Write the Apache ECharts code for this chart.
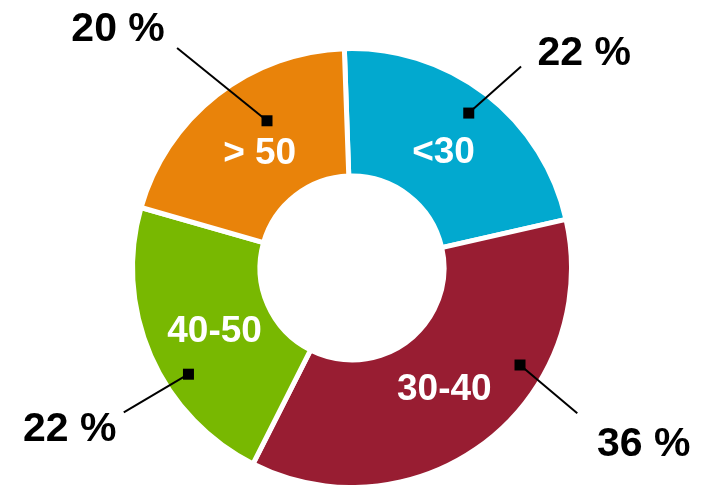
<!DOCTYPE html>
<html>
<head>
<meta charset="utf-8">
<script src="https://cdn.jsdelivr.net/npm/echarts@6/dist/echarts.min.js"></script>
<style>
html,body{margin:0;padding:0;background:#fff;}
#chart{width:704px;height:485px;}
</style>
</head>
<body>
<div id="chart"></div>
<script>
// ---- data ----
const categories = ['<30', '30-40', '40-50', '> 50'];
const shares = [22, 36, 22, 20];
const sliceColors = ['#02A9CF', '#981D32', '#78B801', '#E9830A'];

// ---- annotation layout (polar around pie centre: [radius px, angle deg, CCW from 3 o'clock]) ----
const markerPos  = [[194, 53], [194, 330], [195, 213], [170, 120]];
const lineEndPos = [[263, 50], [268, 327.2], [270, 212.3], [281, 128.5]];
const labelPos   = [[316, 42.6], [342, 328.7], [325, 209.9], [333, 134.5]];

const CENTER = [352, 268];
const FONT = '"Liberation Sans", Arial, Helvetica, sans-serif';

const pieData = categories.map((c, i) => ({
  name: c, value: shares[i], itemStyle: { color: sliceColors[i] }
}));

const leaderSeries = categories.map((c, i) => ({
  type: 'line',
  coordinateSystem: 'polar',
  data: [markerPos[i], lineEndPos[i]],
  symbol: 'none',
  silent: true,
  lineStyle: { color: '#000', width: 2 },
  z: 5
}));

const option = {
  animation: false,
  backgroundColor: '#fff',
  polar: { center: CENTER, radius: 400 },
  angleAxis: { type: 'value', min: 0, max: 360, startAngle: 0, clockwise: false, show: false },
  radiusAxis: { type: 'value', min: 0, max: 400, show: false },
  series: [
    {
      type: 'pie',
      center: CENTER,
      radius: [92, 219.5],
      startAngle: 92,
      clockwise: true,
      silent: true,
      label: { show: false },
      labelLine: { show: false },
      itemStyle: { borderColor: '#fff', borderWidth: 5 },
      data: pieData,
      z: 1
    },
    {
      type: 'pie',
      center: CENTER,
      radius: [94, 200],
      startAngle: 92,
      clockwise: true,
      silent: true,
      itemStyle: { color: 'transparent' },
      label: {
        show: true, position: 'inside', formatter: '{b}', offset: [0, 4],
        color: '#fff', fontSize: 37, fontWeight: 'bold', fontFamily: FONT
      },
      labelLine: { show: false },
      data: categories.map((c, i) => ({ name: c, value: shares[i] })),
      z: 2
    },
    ...leaderSeries,
    {
      type: 'scatter',
      coordinateSystem: 'polar',
      symbol: 'rect',
      symbolSize: 11,
      silent: true,
      itemStyle: { color: '#000', opacity: 1 },
      data: markerPos,
      z: 6
    },
    {
      type: 'scatter',
      coordinateSystem: 'polar',
      symbolSize: 1,
      silent: true,
      itemStyle: { color: 'rgba(255,255,255,0)' },
      label: {
        show: true, position: [0, 0], align: 'center', verticalAlign: 'middle',
        formatter: p => shares[p.dataIndex] + ' %',
        color: '#000', opacity: 1, fontSize: 41, fontWeight: 'bold', fontFamily: FONT
      },
      data: labelPos,
      z: 6
    }
  ]
};

const chart = echarts.init(document.getElementById('chart'), null, { renderer: 'canvas' });
chart.setOption(option);
</script>
</body>
</html>
